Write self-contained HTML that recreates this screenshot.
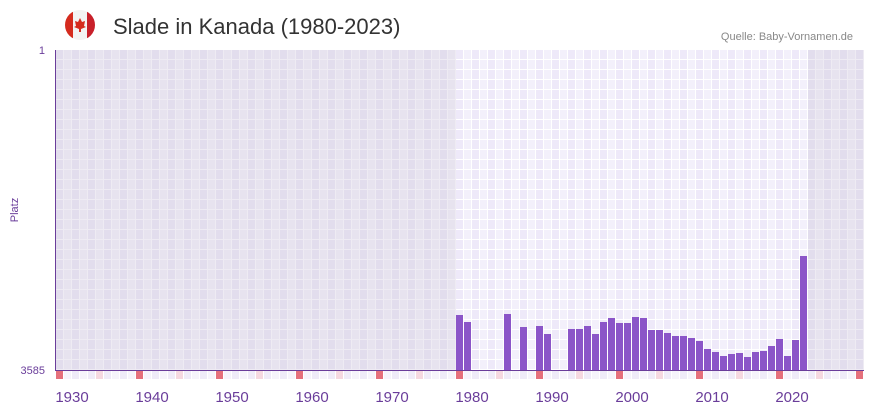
<!DOCTYPE html>
<html><head><meta charset="utf-8"><style>
body{margin:0;background:#fff;width:873px;height:412px;overflow:hidden;font-family:"Liberation Sans",sans-serif}
</style></head><body>
<svg width="873" height="412" xmlns="http://www.w3.org/2000/svg" font-family="Liberation Sans, sans-serif">
<defs>
<pattern id="gridL" x="56" y="50" width="16" height="10" patternUnits="userSpaceOnUse">
<rect width="16" height="10" fill="#e2dded"/><rect x="8" width="8" height="10" fill="#e7e3ef"/>
<rect x="7" width="1" height="10" fill="#eeebf3"/><rect x="15" width="1" height="10" fill="#eeebf3"/><rect y="9" width="16" height="1" fill="#eeebf3"/>
</pattern>
<pattern id="gridD" x="56" y="50" width="16" height="10" patternUnits="userSpaceOnUse">
<rect width="16" height="10" fill="#eee9f9"/><rect x="8" width="8" height="10" fill="#f3f0fb"/>
<rect x="7" width="1" height="10" fill="#fff"/><rect x="15" width="1" height="10" fill="#fff"/><rect y="9" width="16" height="1" fill="#fff"/>
</pattern>
<clipPath id="cc"><circle cx="80" cy="25" r="15"/></clipPath>
</defs>
<g clip-path="url(#cc)">
<rect x="65" y="10" width="30" height="30" fill="#f3f3f3"/>
<rect x="65" y="10" width="8" height="30" fill="#d52b1e"/>
<rect x="87" y="10" width="8" height="30" fill="#c8202a"/>
<path d="M80,18 L82,22 L85,21 L84,26 L86,27 L81,29 L81,32 L79,32 L79,29 L74,27 L76,26 L75,21 L78,22 Z" fill="#d52b1e"/>
</g>
<text x="113" y="34" font-size="22" fill="#333">Slade in Kanada (1980-2023)</text>
<text x="853" y="40" font-size="11" fill="#888" text-anchor="end">Quelle: Baby-Vornamen.de</text>
<rect x="56" y="50" width="808" height="320" fill="url(#gridL)"/>
<rect x="456" y="50" width="352" height="320" fill="url(#gridD)"/>
<line x1="55.5" y1="50" x2="55.5" y2="370" stroke="#6a3d9a" stroke-width="1"/>
<line x1="55" y1="370.5" x2="864" y2="370.5" stroke="#6a3d9a" stroke-width="1"/>
<text x="45" y="54" font-size="11" fill="#6a3d9a" text-anchor="end">1</text>
<text x="45" y="374" font-size="11" fill="#6a3d9a" text-anchor="end">3585</text>
<text x="18" y="210" font-size="11" fill="#6a3d9a" text-anchor="middle" transform="rotate(-90 18 210)">Platz</text>
<g fill="#8b55c8" id="bars"></g>
<g id="marks"></g>
<g font-size="15" fill="#6a3d9a" text-anchor="middle">
<text x="72" y="402">1930</text><text x="152" y="402">1940</text><text x="232" y="402">1950</text><text x="312" y="402">1960</text><text x="392" y="402">1970</text><text x="472" y="402">1980</text><text x="552" y="402">1990</text><text x="632" y="402">2000</text><text x="712" y="402">2010</text><text x="792" y="402">2020</text>
</g>
</svg>
<script>
var d={50:315,51:322,56:314,58:327,60:326,61:334,64:329,65:329,66:326,67:334,68:322,69:318,70:323,71:323,72:317,73:318,74:330,75:330,76:333,77:336,78:336,79:338,80:341,81:349,82:352,83:356,84:354,85:353,86:357,87:352,88:351,89:346,90:339,91:356,92:340,93:256};
var ns="http://www.w3.org/2000/svg",b=document.getElementById("bars"),m=document.getElementById("marks");
for(var k in d){var r=document.createElementNS(ns,"rect");r.setAttribute("x",56+k*8);r.setAttribute("y",d[k]);r.setAttribute("width",7);r.setAttribute("height",370-d[k]);b.appendChild(r);}
for(var k=0;k<101;k++){var r=document.createElementNS(ns,"rect");r.setAttribute("x",56+k*8);r.setAttribute("y",371);r.setAttribute("width",7);r.setAttribute("height",8);
r.setAttribute("fill",k%10==0?"#e5707c":k%5==0?"#f5d8e0":(k%2?"#f6f4fb":"#efebf8"));m.appendChild(r);}
</script>
</body></html>
